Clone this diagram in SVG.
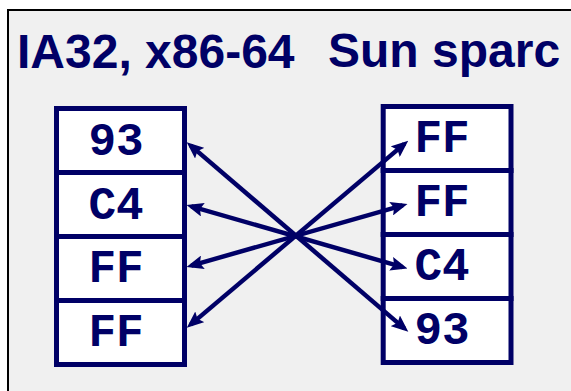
<svg xmlns="http://www.w3.org/2000/svg" width="571" height="391" viewBox="0 0 571 391">
<defs>
<style>
.title{font-family:"Liberation Sans",Arial,sans-serif;font-weight:bold;font-size:48px;fill:#000066}
.cell{fill:#ffffff;stroke:#000066;stroke-width:5}
.val{font-family:"Liberation Mono","Courier New",monospace;font-weight:bold;font-size:46px;fill:#000066;text-anchor:middle}
.arrow{stroke:#000066;stroke-width:4.5;fill:none;marker-start:url(#ah);marker-end:url(#ah)}
</style>
<marker id="ah" markerUnits="userSpaceOnUse" markerWidth="17" markerHeight="14" refX="12" refY="7" orient="auto-start-reverse" viewBox="0 0 17 14">
<path d="M0,0 L17,7 L0,14 L3,7 z" fill="#000066"/>
</marker>
</defs>
<rect x="0" y="0" width="571" height="391" fill="#ffffff"/>
<rect x="8" y="10" width="575" height="395" fill="#f0f0f0" stroke="#000000" stroke-width="2"/>
<g id="title-left"><text class="title" x="17" y="67.5">IA32, x86-64</text></g>
<g id="title-right"><text class="title" x="328" y="66.5">Sun sparc</text></g>
<g id="left-stack">
<g id="left-0"><rect class="cell" x="56.5" y="108.5" width="128" height="64"/><text class="val" x="116" y="154.5">93</text></g>
<g id="left-1"><rect class="cell" x="56.5" y="172.5" width="128" height="64"/><text class="val" x="116" y="218.5">C4</text></g>
<g id="left-2"><rect class="cell" x="56.5" y="236.5" width="128" height="64"/><text class="val" x="116" y="282">FF</text></g>
<g id="left-3"><rect class="cell" x="56.5" y="300.5" width="128" height="64"/><text class="val" x="116" y="346">FF</text></g>
</g>
<g id="right-stack">
<g id="right-0"><rect class="cell" x="383.2" y="106.5" width="127.8" height="64"/><text class="val" x="442" y="152">FF</text></g>
<g id="right-1"><rect class="cell" x="383.2" y="170.5" width="127.8" height="64"/><text class="val" x="442" y="216">FF</text></g>
<g id="right-2"><rect class="cell" x="383.2" y="234.5" width="127.8" height="64"/><text class="val" x="442" y="280">C4</text></g>
<g id="right-3"><rect class="cell" x="383.2" y="298.5" width="127.8" height="64"/><text class="val" x="442" y="344">93</text></g>
</g>
<g id="connectors">
<line class="arrow" x1="190.5" y1="145.4" x2="404.5" y2="328.6"/>
<line class="arrow" x1="191.3" y1="206.4" x2="402.7" y2="267.1"/>
<line class="arrow" x1="191.3" y1="265.6" x2="402.7" y2="205.4"/>
<line class="arrow" x1="190.6" y1="324.6" x2="404.4" y2="143.9"/>
</g>
</svg>
